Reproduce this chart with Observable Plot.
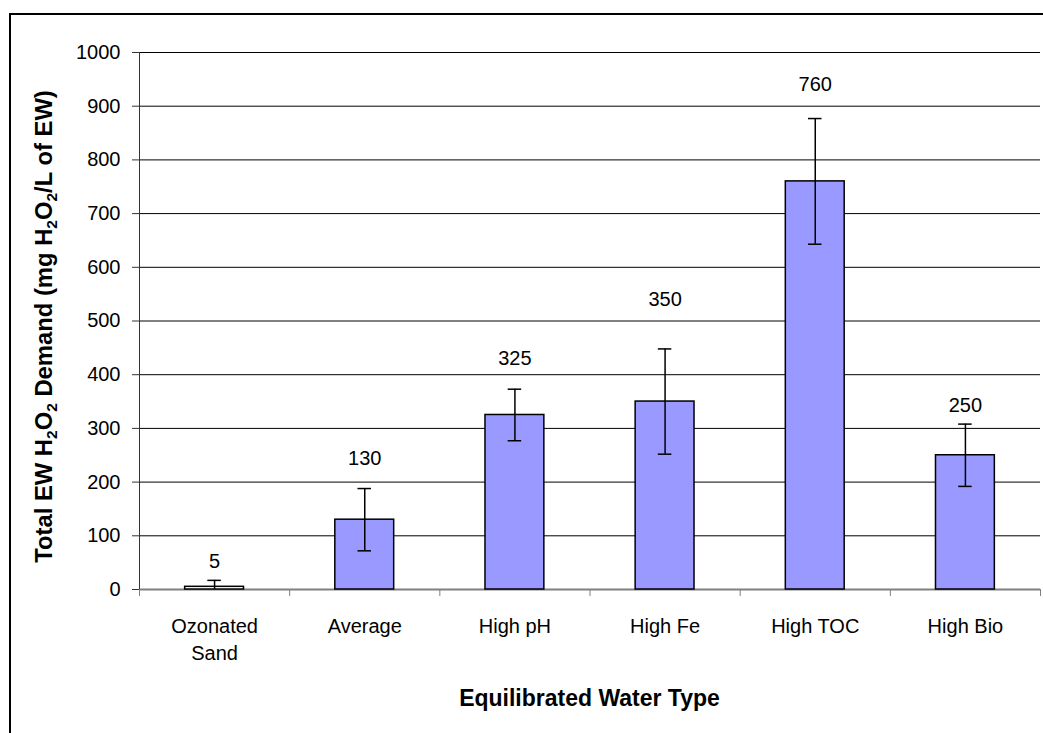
<!DOCTYPE html>
<html>
<head>
<meta charset="utf-8">
<script src="https://cdn.jsdelivr.net/npm/d3@7"></script>
<script src="https://cdn.jsdelivr.net/npm/@observablehq/plot@0.6"></script>
<style>
  html, body { margin: 0; padding: 0; background: #fff; overflow: hidden; width: 1043px; height: 733px; }
  #wrap { position: relative; width: 1043px; height: 733px; }
  #frame { position: absolute; left: 9px; top: 13px; width: 1100px; height: 800px; border: 2px solid #000; box-sizing: border-box; pointer-events: none; }
  #chart svg { position: absolute; left: 0; top: 0; }
</style>
</head>
<body>
<div id="wrap"><div id="chart"></div><div id="frame"></div></div>
<script>
// ---- data ----
const categories = ["Ozonated\nSand", "Average", "High pH", "High Fe", "High TOC", "High Bio"];
const demand = [5, 130, 325, 350, 760, 250];
const errorMargin = [12, 58, 48, 98, 117, 58];
const labelLevel = [52, 243, 430, 540, 940, 342];
const yTicks = [0, 100, 200, 300, 400, 500, 600, 700, 800, 900, 1000];
const xTitle = "Equilibrated Water Type";
const yTitleParts = [["Total EW H", false], ["2", true], ["O", false], ["2", true], [" Demand (mg H", false], ["2", true], ["O", false], ["2", true], ["/L of EW)", false]];

const data = categories.map((c, i) => ({
  i, c, v: demand[i], e: errorMargin[i],
  lo: Math.max(0, demand[i] - errorMargin[i]),
  hi: demand[i] + errorMargin[i],
  ly: labelLevel[i]
}));
const boundaries = d3.range(categories.length + 1).map(k => k - 0.5);
const half = 0.196, cap = 0.045;
const font = "'Liberation Sans', Arial, sans-serif";

const chart = Plot.plot({
  width: 1043, height: 733,
  marginLeft: 139, marginRight: 3, marginTop: 52, marginBottom: 144,
  style: {fontFamily: font, fontSize: "20px", color: "black", background: "transparent", overflow: "visible"},
  x: {domain: [-0.5, categories.length - 0.5], axis: null},
  y: {domain: [0, 1000], axis: null},
  marks: [
    Plot.ruleY(yTicks.filter(v => v > 0), {stroke: "black", strokeWidth: 1}),
    Plot.ruleY([0], {stroke: "#808080", strokeWidth: 2}),
    Plot.axisX({ticks: boundaries, tickSize: 7, tickFormat: () => "", stroke: "#808080", label: null}),
    Plot.rect(data, {x1: d => d.i - half, x2: d => d.i + half, y1: 0, y2: "v", fill: d => d.v < 10 ? "white" : "#9999FF", stroke: "black", strokeWidth: 1.5}),
    Plot.ruleX(data, {x: "i", y1: "lo", y2: "hi", stroke: "black", strokeWidth: 1.5}),
    Plot.ruleY(data, {y: "hi", x1: d => d.i - cap, x2: d => d.i + cap, stroke: "black", strokeWidth: 1.5}),
    Plot.ruleY(data.filter(d => d.v - d.e > 0), {y: "lo", x1: d => d.i - cap, x2: d => d.i + cap, stroke: "black", strokeWidth: 1.5}),
    Plot.text(data, {x: "i", y: "ly", text: d => String(d.v), fontSize: 20, fill: "black"}),
    Plot.ruleX([-0.5], {stroke: "#333", strokeWidth: 1}),
    Plot.axisY({ticks: yTicks, tickSize: 7, tickPadding: 12, fontSize: 20, stroke: "#333", fill: "black", label: null, tickFormat: d => String(d)}),
    Plot.axisX({ticks: d3.range(categories.length), tickSize: 0, tickPadding: 24, tickFormat: i => categories[i], fontSize: 20, lineHeight: 1.36, fill: "black", label: null})
  ]
});
document.getElementById("chart").appendChild(chart);

const svg = d3.select(chart);
svg.append("text")
  .attr("x", 589.5).attr("y", 706)
  .attr("text-anchor", "middle")
  .attr("font-family", font).attr("font-weight", "bold").attr("font-size", 23)
  .attr("fill", "black")
  .text(xTitle);

const yt = svg.append("text")
  .attr("transform", "translate(52,326.5) rotate(-90)")
  .attr("text-anchor", "middle")
  .attr("font-family", font).attr("font-weight", "bold").attr("font-size", 23.8)
  .attr("fill", "black");
let shifted = false;
yTitleParts.forEach(([t, sub]) => {
  const ts = yt.append("tspan").text(t);
  if (sub) { ts.attr("font-size", 15.5).attr("dy", shifted ? 0 : 5); shifted = true; }
  else { ts.attr("dy", shifted ? -5 : 0); shifted = false; }
});
</script>
</body>
</html>
